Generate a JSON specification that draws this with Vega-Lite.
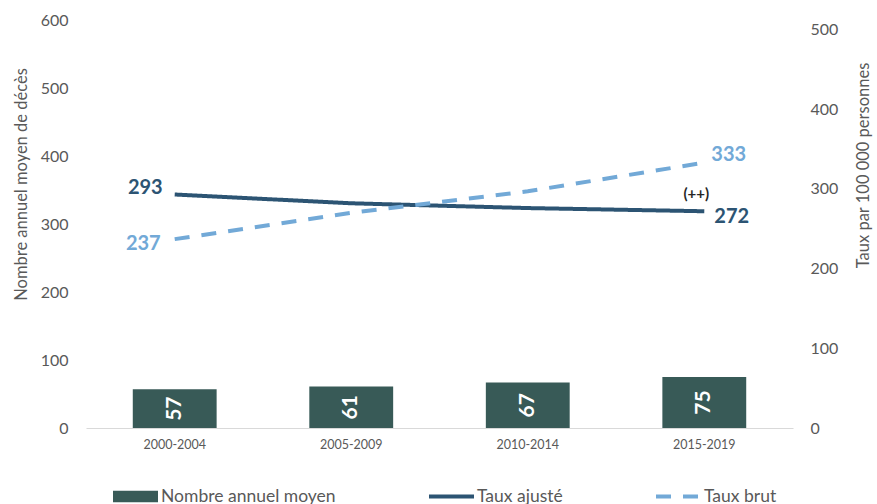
{
  "$schema": "https://vega.github.io/schema/vega-lite/v6.json",
  "width": 707,
  "height": 408,
  "autosize": {"type": "none"},
  "padding": {"left": 86, "top": 20, "right": 84, "bottom": 76},
  "config": {
    "font": "Lato",
    "view": {"stroke": null},
    "axis": {"grid": false, "ticks": false, "labelColor": "#595959", "titleColor": "#595959", "titleFontWeight": "normal"}
  },
  "datasets": {
    "bars": [
      {"periode": "2000-2004", "serie": "Nombre annuel moyen", "valeur": 57},
      {"periode": "2005-2009", "serie": "Nombre annuel moyen", "valeur": 61},
      {"periode": "2010-2014", "serie": "Nombre annuel moyen", "valeur": 67},
      {"periode": "2015-2019", "serie": "Nombre annuel moyen", "valeur": 75}
    ],
    "taux": [
      {"periode": "2000-2004", "serie": "Taux ajusté", "taux": 293, "note": null},
      {"periode": "2005-2009", "serie": "Taux ajusté", "taux": 282, "note": null},
      {"periode": "2010-2014", "serie": "Taux ajusté", "taux": 276, "note": null},
      {"periode": "2015-2019", "serie": "Taux ajusté", "taux": 272, "note": "(++)"},
      {"periode": "2000-2004", "serie": "Taux brut", "taux": 237, "note": null},
      {"periode": "2005-2009", "serie": "Taux brut", "taux": 270, "note": null},
      {"periode": "2010-2014", "serie": "Taux brut", "taux": 297, "note": null},
      {"periode": "2015-2019", "serie": "Taux brut", "taux": 333, "note": null}
    ]
  },
  "layer": [
    {
      "data": {"name": "bars"},
      "mark": {"type": "bar"},
      "encoding": {
        "x": {
          "field": "periode", "type": "nominal", "sort": null,
          "scale": {"paddingInner": 0.525, "paddingOuter": 0.265},
          "axis": {"title": null, "labelAngle": 0, "labelFontSize": 12.5, "labelPadding": 10, "domainColor": "#D9D9D9", "domainWidth": 1}
        },
        "y": {
          "field": "valeur", "type": "quantitative",
          "scale": {"domain": [0, 600]},
          "axis": {"orient": "left", "title": "Nombre annuel moyen de décès", "titleFontSize": 16.5, "titlePadding": 11, "titleY": 164, "values": [0, 100, 200, 300, 400, 500, 600], "labelFontSize": 16, "labelPadding": 18, "domain": false}
        },
        "color": {
          "field": "serie", "type": "nominal",
          "scale": {"domain": ["Nombre annuel moyen", "Taux ajusté", "Taux brut"], "range": ["#385A57", "#2C5473", "#72A9D7"]},
          "legend": {
            "orient": "bottom", "direction": "horizontal", "title": null,
            "padding": 27, "offset": -4,
            "symbolSize": 2025,
            "labelFontSize": 17.5, "labelColor": "#595959", "labelOffset": 3, "labelLimit": 400,
            "columnPadding": 93,
            "encode": {
              "symbols": {
                "update": {
                  "shape": {"signal": "datum.value === 'Nombre annuel moyen' ? 'M-1,-0.26H1V0.26H-1Z' : (datum.value === 'Taux brut' ? 'M-1,-0.089H-0.333V0.089H-1Z M0.2,-0.089H0.867V0.089H0.2Z' : 'M-1,-0.089H1V0.089H-1Z')"},
                  "fill": {"signal": "datum.value === 'Nombre annuel moyen' ? '#385A57' : (datum.value === 'Taux brut' ? '#72A9D7' : '#2C5473')"},
                  "fillOpacity": {"value": 1},
                  "stroke": {"value": "transparent"},
                  "strokeWidth": {"value": 0},
                  "opacity": {"value": 1}
                }
              }
            }
          }
        }
      }
    },
    {
      "data": {"name": "taux"},
      "encoding": {
        "x": {"field": "periode", "type": "nominal", "sort": null},
        "y": {
          "field": "taux", "type": "quantitative",
          "scale": {"domain": [0, 512]},
          "axis": {"orient": "right", "title": "Taux par 100 000 personnes", "titleAngle": 270, "titleFontSize": 16.5, "titlePadding": 34, "titleY": 145, "values": [0, 100, 200, 300, 400, 500], "labelFontSize": 16, "labelPadding": 17, "domain": false}
        }
      },
      "layer": [
        {
          "mark": {"type": "line", "strokeWidth": 4},
          "encoding": {
            "color": {"field": "serie", "type": "nominal"},
            "strokeDash": {
              "field": "serie", "type": "nominal",
              "scale": {"domain": ["Taux ajusté", "Taux brut"], "range": [[1, 0], [15, 12]]},
              "legend": null
            }
          }
        },
        {
          "transform": [{"filter": "datum.serie === 'Taux ajusté' && datum.periode === '2000-2004'"}],
          "mark": {"type": "text", "align": "right", "baseline": "middle", "dx": -12, "dy": -7, "fontSize": 20, "fontWeight": "bold"},
          "encoding": {"text": {"field": "taux"}, "color": {"field": "serie", "type": "nominal"}}
        },
        {
          "transform": [{"filter": "datum.serie === 'Taux brut' && datum.periode === '2000-2004'"}],
          "mark": {"type": "text", "align": "right", "baseline": "middle", "dx": -14, "dy": 5, "fontSize": 20, "fontWeight": "bold"},
          "encoding": {"text": {"field": "taux"}, "color": {"field": "serie", "type": "nominal"}}
        },
        {
          "transform": [{"filter": "datum.serie === 'Taux ajusté' && datum.periode === '2015-2019'"}],
          "mark": {"type": "text", "align": "left", "baseline": "middle", "dx": 10, "dy": 6, "fontSize": 20, "fontWeight": "bold"},
          "encoding": {"text": {"field": "taux"}, "color": {"field": "serie", "type": "nominal"}}
        },
        {
          "transform": [{"filter": "datum.serie === 'Taux brut' && datum.periode === '2015-2019'"}],
          "mark": {"type": "text", "align": "left", "baseline": "middle", "dx": 7, "dy": -8, "fontSize": 20, "fontWeight": "bold"},
          "encoding": {"text": {"field": "taux"}, "color": {"field": "serie", "type": "nominal"}}
        },
        {
          "transform": [{"filter": "datum.note != null"}],
          "mark": {"type": "text", "align": "center", "baseline": "middle", "dx": -8, "dy": -17, "fontSize": 15, "fontWeight": "bold", "color": "#262626"},
          "encoding": {"text": {"field": "note"}}
        }
      ]
    },
    {
      "data": {"name": "bars"},
      "mark": {"type": "text", "angle": 270, "align": "center", "baseline": "middle", "fontSize": 21, "fontWeight": "bold", "color": "#FFFFFF"},
      "encoding": {
        "x": {"field": "periode", "type": "nominal", "sort": null},
        "y": {"field": "valeur", "type": "quantitative", "scale": {"domain": [0, 1200]}, "axis": null},
        "text": {"field": "valeur"}
      }
    }
  ],
  "resolve": {"scale": {"y": "independent"}}
}
